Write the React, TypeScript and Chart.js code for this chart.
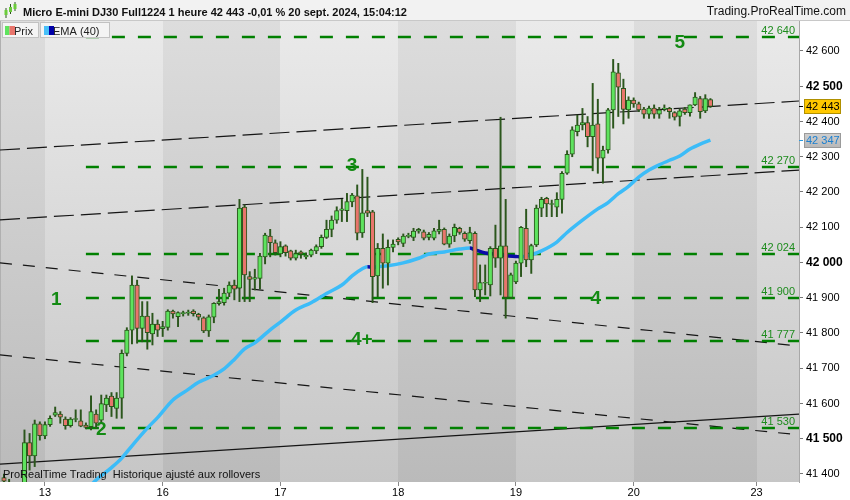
import React, { useEffect, useRef } from 'react';
import { Chart, registerables } from 'chart.js';

Chart.register(...registerables);

const FONT = '"Liberation Sans", Arial, sans-serif';

// Hourly candles (index = hour slot)
const opens = [
  41390, 41375, 41340, 41330, 41365, 41489, 41451, 41542, 41508, 41540,
  41567, 41570, 41556, 41537, 41555, 41551, 41539, 41534, 41570, 41553,
  41596, 41621, 41586, 41615, 41742, 41808, 41936, 41813, 41848, 41797,
  41825, 41812, 41816, 41862, 41846, 41855, 41856, 41862, 41853, 41843,
  41806, 41845, 41883, 41886, 41913, 41936, 41927, 42157, 41960, 41953,
  41955, 42016, 42075, 42056, 42024, 42047, 42033, 42012, 42030, 42016,
  42021, 42033, 42045, 42071, 42094, 42120, 42148, 42147, 42172, 42189,
  42084, 42147, 42144, 41962, 42040, 41998, 42043, 42066, 42054, 42074,
  42071, 42089, 42087, 42071, 42069, 42088, 42094, 42052, 42075, 42097,
  42083, 42062, 42083, 41922, 41941, 41936, 42040, 42012, 42047, 41901,
  41945, 41998, 42097, 42007, 42050, 42154, 42182, 42165, 42157, 42179,
  42253, 42307, 42371, 42390, 42397, 42357, 42393, 42296, 42319, 42433,
  42538, 42494, 42433, 42461, 42450, 42435, 42421, 42438, 42421, 42436,
  42437, 42425, 42414, 42435, 42425, 42447, 42465, 42430, 42462,
];
const highs = [
  41400, 41385, 41360, 41372, 41525, 41515, 41553, 41548, 41548, 41565,
  41590, 41577, 41562, 41560, 41582, 41582, 41545, 41622, 41582, 41624,
  41624, 41631, 41631, 41752, 41815, 41962, 41950, 41889, 41889, 41856,
  41837, 41833, 41866, 41865, 41860, 41862, 41865, 41866, 41856, 41846,
  41851, 41886, 41924, 41927, 41945, 41950, 42179, 42163, 41974, 41981,
  42026, 42083, 42094, 42064, 42059, 42050, 42035, 42035, 42033, 42027,
  42038, 42050, 42078, 42120, 42132, 42158, 42179, 42196, 42196, 42220,
  42264, 42242, 42148, 42054, 42081, 42064, 42064, 42070, 42081, 42083,
  42097, 42097, 42092, 42085, 42097, 42120, 42098, 42081, 42109, 42100,
  42087, 42100, 42087, 41993, 41993, 42045, 42106, 42412, 42179, 41970,
  42004, 42102, 42151, 42052, 42163, 42185, 42185, 42177, 42198, 42258,
  42317, 42385, 42418, 42437, 42414, 42508, 42463, 42330, 42437, 42576,
  42565, 42520, 42470, 42467, 42455, 42440, 42444, 42447, 42440, 42447,
  42440, 42428, 42435, 42440, 42447, 42482, 42471, 42476, 42465,
];
const lows = [
  41360, 41320, 41300, 41310, 41350, 41411, 41421, 41496, 41500, 41535,
  41563, 41544, 41527, 41533, 41548, 41534, 41528, 41525, 41530, 41544,
  41577, 41563, 41558, 41558, 41735, 41769, 41771, 41775, 41754, 41766,
  41790, 41790, 41808, 41842, 41818, 41848, 41850, 41848, 41837, 41801,
  41790, 41829, 41879, 41879, 41903, 41894, 41889, 41889, 41889, 41922,
  41925, 41996, 42016, 42021, 42016, 42018, 42007, 42007, 42012, 42010,
  42016, 42025, 42040, 42068, 42073, 42111, 42116, 42116, 42158, 42064,
  42071, 42130, 41886, 41903, 41927, 41936, 42030, 42050, 42045, 42070,
  42062, 42083, 42064, 42064, 42064, 42081, 42050, 42043, 42059, 42080,
  42060, 42054, 41903, 41889, 41908, 41905, 41986, 41908, 41842, 41898,
  41940, 41960, 41988, 41969, 42045, 42130, 42130, 42130, 42130, 42140,
  42250, 42300, 42359, 42376, 42328, 42260, 42253, 42225, 42310, 42381,
  42414, 42393, 42409, 42440, 42428, 42409, 42409, 42409, 42409, 42430,
  42409, 42404, 42387, 42420, 42415, 42445, 42409, 42425, 42440,
];
const closes = [
  41380, 41340, 41330, 41365, 41489, 41451, 41542, 41509, 41540, 41558,
  41574, 41561, 41537, 41556, 41557, 41536, 41532, 41577, 41544, 41600,
  41615, 41591, 41615, 41742, 41808, 41936, 41813, 41848, 41801, 41825,
  41808, 41818, 41862, 41854, 41858, 41858, 41859, 41855, 41845, 41806,
  41846, 41884, 41889, 41913, 41936, 41924, 42154, 41965, 41952, 41957,
  42018, 42078, 42056, 42028, 42045, 42028, 42012, 42025, 42024, 42020,
  42035, 42045, 42071, 42094, 42120, 42147, 42152, 42173, 42191, 42083,
  42141, 42140, 41960, 42040, 41998, 42043, 42052, 42058, 42075, 42077,
  42089, 42094, 42069, 42080, 42090, 42094, 42052, 42075, 42100, 42085,
  42066, 42085, 41922, 41943, 41944, 42040, 42012, 42047, 41901, 41965,
  41998, 42100, 42007, 42048, 42154, 42179, 42166, 42167, 42179, 42253,
  42307, 42376, 42390, 42397, 42357, 42390, 42296, 42319, 42433, 42541,
  42497, 42434, 42461, 42450, 42433, 42421, 42438, 42421, 42433, 42438,
  42428, 42412, 42430, 42425, 42447, 42469, 42428, 42465, 42443,
];

// EMA(40) (slot index, value)
const emaIdx = [
  16, 17, 18, 21, 23, 25, 28, 30, 33, 36, 38, 41, 43, 45, 47, 49, 52, 54, 57, 60,
  63, 66, 68, 70, 71, 72, 73, 75, 78, 81, 83, 86, 89, 91, 92, 94, 96, 98, 100, 101,
  103, 105, 108, 110, 113, 116, 118, 120, 122, 124, 126, 128, 130, 132, 134, 136, 138,
];
const emaVal = [
  41350, 41368, 41383, 41418, 41445, 41480, 41530, 41560, 41610, 41640, 41660, 41680,
  41698, 41725, 41755, 41772, 41809, 41831, 41865, 41886, 41912, 41936, 41962, 41982,
  41988, 41986, 41988, 41991, 41999, 42012, 42024, 42030, 42038, 42041, 42036, 42027,
  42024, 42019, 42017, 42016, 42022, 42033, 42058, 42085, 42120, 42152, 42170, 42195,
  42216, 42242, 42262, 42277, 42290, 42302, 42322, 42336, 42347,
];

// x axis: day labels and the slot where each day starts
const dayLabels = ['13', '16', '17', '18', '19', '20', '23'];
const dayStartIdx = [8, 31, 54, 77, 100, 123, 147];

const yTickValues = [41400, 41500, 41600, 41700, 41800, 41900, 42000, 42100, 42200, 42300, 42400, 42500, 42600];

// horizontal levels (green dashed)
const levelValues = [42640, 42270, 42024, 41900, 41777, 41530];
const levelStartIdx = 16;

// trend lines
const trendStartIdx = [-0.78, -0.78, -0.78, -0.78, -0.78];
const trendStartVal = [42319, 42121, 41999, 41738, 41428];
const trendEndIdx = [155.3, 155.3, 155.3, 155.3, 155.3];
const trendEndVal = [42458, 42262, 41763, 41511, 41570];
const trendDash = [[20, 7], [20, 7], [12, 11], [12, 11], []];

// wave labels
const waveText = ['1', '2', '3', '4+', '4', '5'];
const waveIdx = [10.2, 19.0, 68, 69.9, 115.6, 132];
const waveVal = [41896, 41527, 42278, 41783, 41899, 42626];

const lastPrice = 42443;
const lastEma = 42347;

const fmt = (v: number) => Math.round(v).toString().replace(/\B(?=(\d{3})+(?!\d))/g, ' ');

const UP = '#5ee35e';
const DOWN = '#e8756c';
const EDGE = '#2b561c';

export default function App() {
  const ref = useRef<HTMLCanvasElement>(null);

  useEffect(() => {
    document.body.style.margin = '0';
    const canvas = ref.current!;
    const bodies = opens.map((o, i) => ({ x: i, y: [o, closes[i]] }));
    const wicks = lows.map((l, i) => ({ x: i, y: [l, highs[i]] }));
    const bodyColors = opens.map((o, i) => (closes[i] >= o ? UP : DOWN));
    const emaPts = emaIdx.map((x, i) => ({ x, y: emaVal[i] }));

    const decor = {
      id: 'decor',
      beforeDraw(chart: any) {
        const { ctx, chartArea: a, scales } = chart;
        const x = scales.x;
        ctx.save();
        ctx.fillStyle = '#ffffff';
        ctx.fillRect(0, 0, chart.width, chart.height);
        // header
        ctx.fillStyle = '#f2f2f2';
        ctx.fillRect(0, 0, chart.width, 21);
        ctx.fillStyle = '#c8c8c8';
        ctx.fillRect(0, 20, chart.width, 1);
        // day bands
        const bounds = [x.min, ...dayStartIdx, x.max];
        for (let k = 0; k < bounds.length - 1; k++) {
          const x0 = Math.max(a.left, Math.round(x.getPixelForValue(bounds[k])));
          const x1 = Math.min(a.right, Math.round(x.getPixelForValue(bounds[k + 1])));
          const light = k % 2 === 1;
          const g = ctx.createLinearGradient(0, a.top, 0, a.bottom);
          g.addColorStop(0, light ? '#eaeaea' : '#dddddd');
          g.addColorStop(1, light ? '#c6c6c6' : '#bababa');
          ctx.fillStyle = g;
          ctx.fillRect(x0, a.top, x1 - x0, a.bottom - a.top);
        }
        ctx.fillStyle = '#b0b0b0';
        ctx.fillRect(0, a.top, 1, a.bottom - a.top);
        ctx.restore();
      },
      beforeDatasetsDraw(chart: any) {
        const { ctx, chartArea: a, scales } = chart;
        const x = scales.x;
        const y = scales.y;
        ctx.save();
        ctx.beginPath();
        ctx.rect(a.left, a.top, a.right - a.left, a.bottom - a.top);
        ctx.clip();
        // trend lines
        ctx.strokeStyle = '#151515';
        for (let k = 0; k < trendStartIdx.length; k++) {
          ctx.setLineDash(trendDash[k]);
          ctx.lineWidth = 1.2;
          ctx.beginPath();
          ctx.moveTo(x.getPixelForValue(trendStartIdx[k]), y.getPixelForValue(trendStartVal[k]));
          ctx.lineTo(x.getPixelForValue(trendEndIdx[k]), y.getPixelForValue(trendEndVal[k]));
          ctx.stroke();
        }
        // levels
        ctx.setLineDash([13, 13]);
        ctx.strokeStyle = '#008000';
        ctx.lineWidth = 2.5;
        levelValues.forEach((v) => {
          const py = Math.round(y.getPixelForValue(v));
          ctx.beginPath();
          ctx.moveTo(x.getPixelForValue(levelStartIdx), py);
          ctx.lineTo(a.right, py);
          ctx.stroke();
        });
        ctx.setLineDash([]);
        ctx.font = `11px ${FONT}`;
        ctx.fillStyle = '#1e8c1e';
        ctx.textAlign = 'right';
        ctx.textBaseline = 'alphabetic';
        levelValues.forEach((v) => {
          const py = Math.round(y.getPixelForValue(v));
          ctx.fillText(fmt(v), a.right - 4, py - 3);
        });
        ctx.restore();
      },
      afterDatasetsDraw(chart: any) {
        const { ctx, chartArea: a, scales } = chart;
        const x = scales.x;
        const y = scales.y;
        ctx.save();
        ctx.beginPath();
        ctx.rect(a.left, a.top, a.right - a.left, a.bottom - a.top);
        ctx.clip();
        // wave labels
        ctx.font = `bold 19px ${FONT}`;
        ctx.fillStyle = '#138a13';
        ctx.textAlign = 'center';
        ctx.textBaseline = 'middle';
        waveText.forEach((t, i) => {
          ctx.fillText(t, x.getPixelForValue(waveIdx[i]), y.getPixelForValue(waveVal[i]) + 1);
        });
        ctx.restore();
      },
      afterDraw(chart: any) {
        const { ctx, chartArea: a, scales } = chart;
        const y = scales.y;
        ctx.save();
        // header icon
        const cand = [[6, 10, 15, 8, 18], [10.5, 7, 12, 4, 14], [15, 4, 9, 2, 11]];
        cand.forEach(([cx, t, b, wt, wb]) => {
          ctx.fillStyle = EDGE;
          ctx.fillRect(cx - 0.5, wt, 1, wb - wt);
          ctx.fillStyle = '#6ccc3c';
          ctx.fillRect(cx - 1.5, t, 3, b - t);
        });
        // header texts
        ctx.fillStyle = '#111';
        ctx.font = `bold 11px ${FONT}`;
        ctx.textAlign = 'left';
        ctx.textBaseline = 'alphabetic';
        ctx.fillText('Micro E-mini DJ30 Full1224 1 heure 42 443 -0,01 % 20 sept. 2024, 15:04:12', 23, 16);
        ctx.font = `12px ${FONT}`;
        ctx.textAlign = 'right';
        ctx.fillText('Trading.ProRealTime.com', 846, 15);
        // legend boxes
        ctx.fillStyle = '#f4f4f4';
        ctx.strokeStyle = '#c2c2c2';
        ctx.lineWidth = 1;
        ctx.fillRect(2.5, 22.5, 36, 15);
        ctx.strokeRect(2.5, 22.5, 36, 15);
        ctx.fillRect(40.5, 22.5, 69, 15);
        ctx.strokeRect(40.5, 22.5, 69, 15);
        ctx.font = `11px ${FONT}`;
        ctx.textAlign = 'left';
        ctx.fillStyle = '#222';
        ctx.fillText('Prix', 14, 34.5);
        ctx.fillText('EMA (40)', 53, 34.5);
        ctx.fillStyle = UP;
        ctx.fillRect(5, 26, 4.5, 9);
        ctx.fillStyle = DOWN;
        ctx.fillRect(9.5, 26, 5.5, 9);
        ctx.fillStyle = '#48c0f8';
        ctx.fillRect(44, 26, 5, 9);
        ctx.fillStyle = '#0000a8';
        ctx.fillRect(49, 26, 5, 9);
        // footer text
        ctx.fillStyle = '#111';
        ctx.font = `11px ${FONT}`;
        ctx.fillText('ProRealTime Trading  Historique ajusté aux rollovers', 3, 478);
        // price tags
        const tag = (v: number, fill: any, stroke: string, txt: string, tick: string) => {
          const py = Math.round(y.getPixelForValue(v));
          ctx.fillStyle = tick;
          ctx.fillRect(a.right, py, 4, 1);
          ctx.fillStyle = fill;
          ctx.fillRect(804.5, py - 6.5, 36, 14);
          ctx.strokeStyle = stroke;
          ctx.strokeRect(804.5, py - 6.5, 36, 14);
          ctx.fillStyle = txt;
          ctx.font = `11px ${FONT}`;
          ctx.textAlign = 'left';
          ctx.textBaseline = 'middle';
          ctx.fillText(fmt(v), 806, py + 1);
        };
        tag(lastPrice, '#ffc800', '#b09000', '#000', '#000');
        const g = ctx.createLinearGradient(0, 130, 0, 150);
        g.addColorStop(0, '#d4d4d4');
        g.addColorStop(1, '#b4b4b4');
        tag(lastEma, g, '#9a9a9a', '#1a7fd0', '#2a9ae0');
        ctx.restore();
      },
    };

    const chart = new Chart(canvas, {
      type: 'bar',
      data: {
        datasets: [
          {
            type: 'line',
            label: 'EMA (40)',
            data: emaPts,
            borderColor: '#3cbcf8',
            borderWidth: 3.5,
            pointRadius: 0,
            cubicInterpolationMode: 'monotone',
            segment: {
              borderColor: (c: any) => (c.p1.parsed.y < c.p0.parsed.y ? '#0a0aa8' : '#3cbcf8'),
            },
            order: 3,
          } as any,
          {
            type: 'bar',
            label: 'body',
            data: bodies as any,
            backgroundColor: bodyColors,
            borderColor: EDGE,
            borderWidth: 1,
            borderSkipped: false,
            barThickness: 4.5,
            grouped: false,
            order: 1,
          } as any,
          {
            type: 'bar',
            label: 'wick',
            data: wicks as any,
            backgroundColor: EDGE,
            borderWidth: 0,
            barThickness: 1.3,
            grouped: false,
            order: 2,
          } as any,
        ],
      },
      options: {
        animation: false,
        responsive: false,
        devicePixelRatio: 1,
        layout: { padding: { top: 21, left: 0, right: 0, bottom: 0 } },
        plugins: { legend: { display: false }, tooltip: { enabled: false } },
        scales: {
          x: {
            type: 'linear',
            min: -0.78,
            max: 155.3,
            offset: false,
            grid: { display: true, offset: false, drawOnChartArea: false, drawTicks: true, tickLength: 4, color: '#888' },
            border: { display: false },
            ticks: {
              autoSkip: false,
              maxRotation: 0,
              padding: 0,
              color: '#000',
              font: { size: 11, family: FONT },
              callback: (_v: any, i: number) => dayLabels[i],
            },
            afterBuildTicks: (s: any) => {
              s.ticks = dayStartIdx.map((v) => ({ value: v }));
            },
            afterFit: (s: any) => {
              s.height = 18;
            },
          },
          y: {
            type: 'linear',
            position: 'right',
            min: 41377.3,
            max: 42685,
            grid: { display: true, drawOnChartArea: false, drawTicks: true, tickLength: 4, color: '#777' },
            border: { display: true, color: '#a8a8a8' },
            ticks: {
              padding: 3,
              color: '#000',
              font: (c: any) => {
                const b = c.tick && c.tick.value % 500 === 0;
                return { size: b ? 12 : 11, weight: b ? 'bold' : 'normal', family: FONT };
              },
              callback: (v: any) => fmt(Number(v)),
            },
            afterBuildTicks: (s: any) => {
              s.ticks = yTickValues.map((v) => ({ value: v }));
            },
            afterFit: (s: any) => {
              s.width = 51;
            },
          },
        },
      } as any,
      plugins: [decor],
    });

    return () => chart.destroy();
  }, []);

  return (
    <div style={{ position: 'fixed', left: 0, top: 0, width: 850, height: 500 }}>
      <canvas ref={ref} width={850} height={500} style={{ display: 'block', width: 850, height: 500 }} />
    </div>
  );
}
